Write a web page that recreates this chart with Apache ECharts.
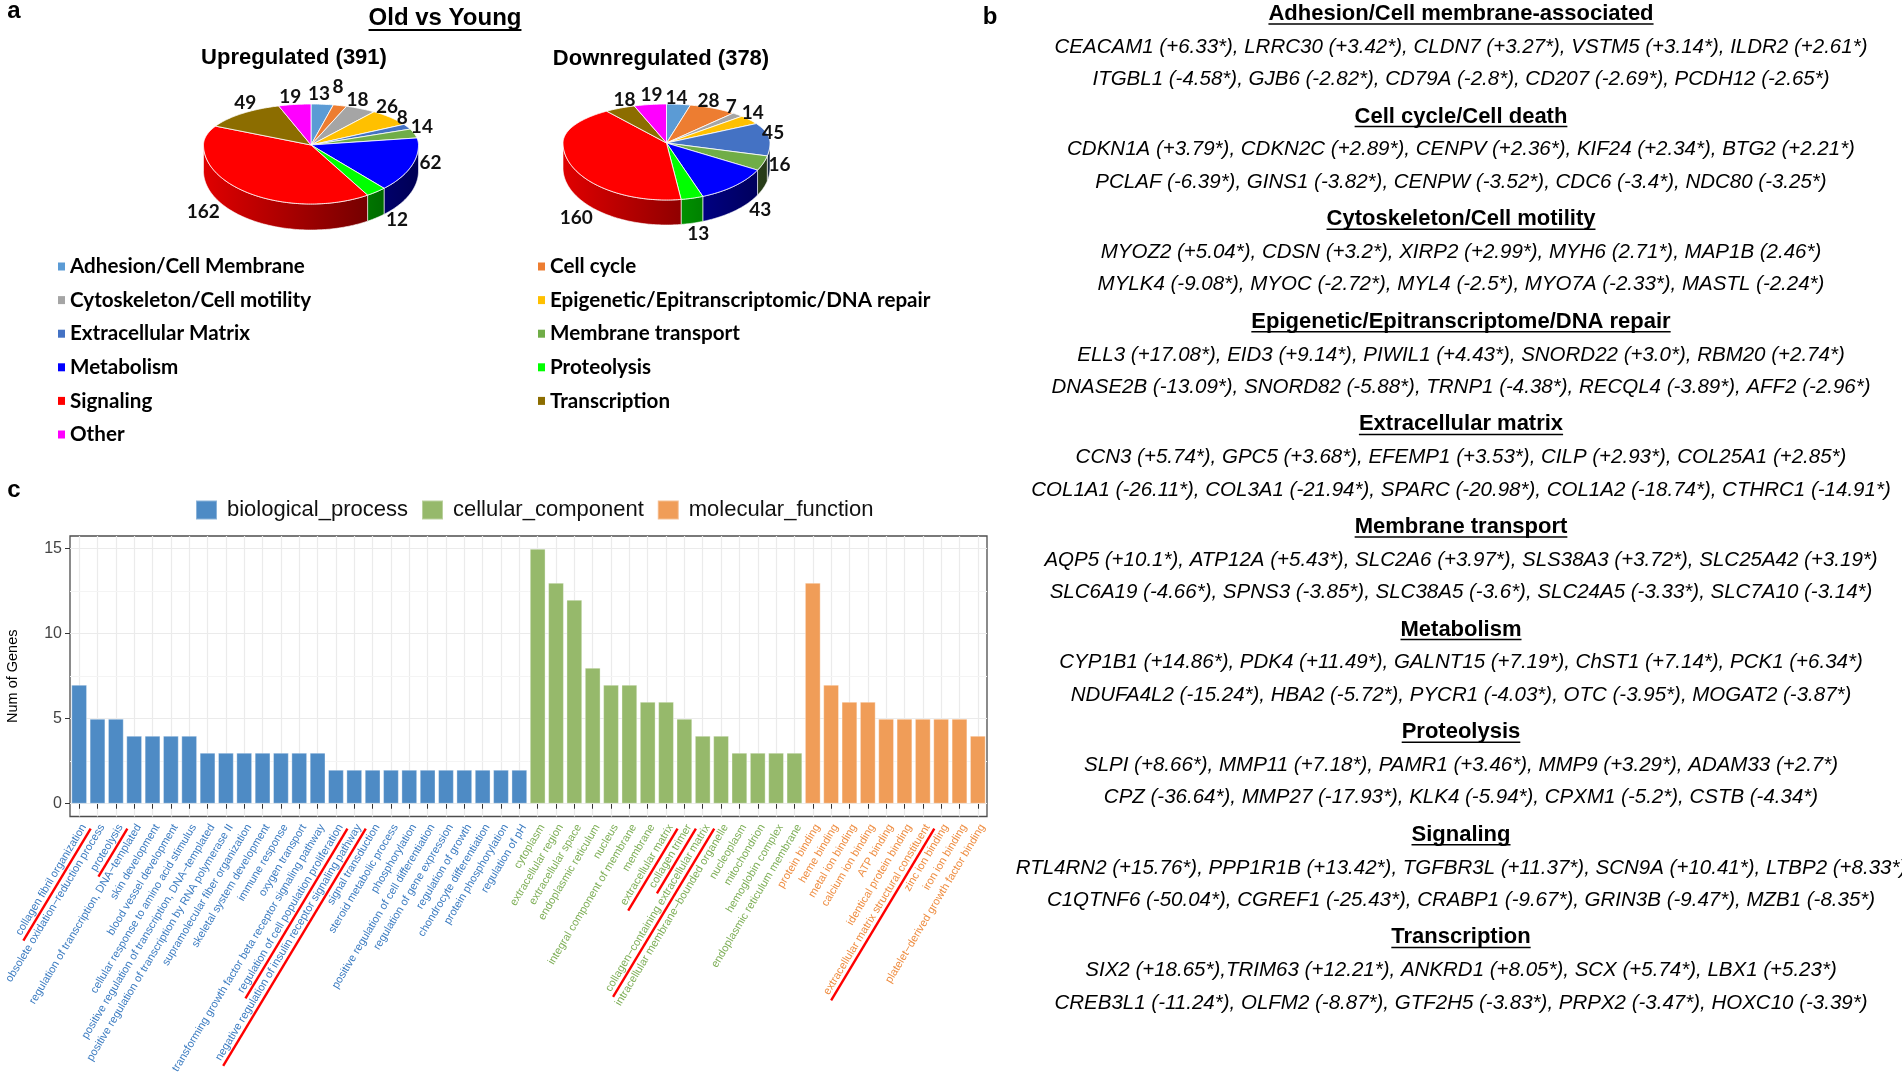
<!DOCTYPE html>
<html><head><meta charset="utf-8">
<script src="https://cdn.jsdelivr.net/npm/echarts@6/dist/echarts.min.js"></script>
<style>html,body{margin:0;padding:0;background:#fff}#c{width:1902px;height:1076px}</style>
</head><body><div id="c"></div>
<script>
// ================= DATA =================
const pieCategories = ['Adhesion/Cell Membrane','Cell cycle','Cytoskeleton/Cell motility','Epigenetic/Epitranscriptomic/DNA repair','Extracellular Matrix','Membrane transport','Metabolism','Proteolysis','Signaling','Transcription','Other'];
const upCounts   = [13, 8, 18, 26, 8, 14, 62, 12, 162, 49, 19];
const downCounts = [14, 28, 7, 14, 45, 16, 43, 13, 160, 18, 19];
const pieTitles = ['Upregulated (391)', 'Downregulated (378)'];
const mainTitle = 'Old vs Young';

const bpTerms = ['collagen fibril organization','obsolete oxidation\u2212reduction process','proteolysis','regulation of transcription, DNA\u2212templated','skin development','blood vessel development','cellular response to amino acid stimulus','positive regulation of transcription, DNA\u2212templated','positive regulation of transcription by RNA polymerase II','supramolecular fiber organization','skeletal system development','immune response','oxygen transport','transforming growth factor beta receptor signaling pathway','regulation of cell population proliferation','negative regulation of insulin receptor signaling pathway','signal transduction','steroid metabolic process','phosphorylation','positive regulation of cell differentiation','regulation of gene expression','regulation of growth','chondrocyte differentiation','protein phosphorylation','regulation of pH'];
const bpCounts = [7,5,5,4,4,4,4,3,3,3,3,3,3,3,2,2,2,2,2,2,2,2,2,2,2];
const ccTerms = ['cytoplasm','extracellular region','extracellular space','endoplasmic reticulum','nucleus','integral component of membrane','membrane','extracellular matrix','collagen trimer','collagen\u2212containing extracellular matrix','intracellular membrane\u2212bounded organelle','nucleoplasm','mitochondrion','hemoglobin complex','endoplasmic reticulum membrane'];
const ccCounts = [15,13,12,8,7,7,6,6,5,4,4,3,3,3,3];
const mfTerms = ['protein binding','heme binding','metal ion binding','calcium ion binding','ATP binding','identical protein binding','extracellular matrix structural constituent','zinc ion binding','iron ion binding','platelet\u2212derived growth factor binding'];
const mfCounts = [13,7,6,6,5,5,5,5,5,4];
const goSeriesNames = ['biological_process','cellular_component','molecular_function'];
const underlinedTerms = ['collagen fibril organization','proteolysis','regulation of cell population proliferation','negative regulation of insulin receptor signaling pathway','extracellular matrix','collagen trimer','collagen\u2212containing extracellular matrix','extracellular matrix structural constituent'];
const yTicks = [0, 5, 10, 15];
const yMinorTicks = [2.5, 7.5, 12.5];

const geneSectionTitles = ['Adhesion/Cell membrane-associated','Cell cycle/Cell death','Cytoskeleton/Cell motility','Epigenetic/Epitranscriptome/DNA repair','Extracellular matrix','Membrane transport','Metabolism','Proteolysis','Signaling','Transcription'];
const geneUpLines = [
 'CEACAM1 (+6.33*), LRRC30 (+3.42*), CLDN7 (+3.27*), VSTM5 (+3.14*), ILDR2 (+2.61*)',
 'CDKN1A (+3.79*), CDKN2C (+2.89*), CENPV (+2.36*), KIF24 (+2.34*), BTG2 (+2.21*)',
 'MYOZ2 (+5.04*), CDSN (+3.2*), XIRP2 (+2.99*), MYH6 (2.71*), MAP1B (2.46*)',
 'ELL3 (+17.08*), EID3 (+9.14*), PIWIL1 (+4.43*), SNORD22 (+3.0*), RBM20 (+2.74*)',
 'CCN3 (+5.74*), GPC5 (+3.68*), EFEMP1 (+3.53*), CILP (+2.93*), COL25A1 (+2.85*)',
 'AQP5 (+10.1*), ATP12A (+5.43*), SLC2A6 (+3.97*), SLS38A3 (+3.72*), SLC25A42 (+3.19*)',
 'CYP1B1 (+14.86*), PDK4 (+11.49*), GALNT15 (+7.19*), ChST1 (+7.14*), PCK1 (+6.34*)',
 'SLPI (+8.66*), MMP11 (+7.18*), PAMR1 (+3.46*), MMP9 (+3.29*), ADAM33 (+2.7*)',
 'RTL4RN2 (+15.76*), PPP1R1B (+13.42*), TGFBR3L (+11.37*), SCN9A (+10.41*), LTBP2 (+8.33*)',
 'SIX2 (+18.65*),TRIM63 (+12.21*), ANKRD1 (+8.05*), SCX (+5.74*), LBX1 (+5.23*)'];
const geneDownLines = [
 'ITGBL1 (-4.58*), GJB6 (-2.82*), CD79A (-2.8*), CD207 (-2.69*), PCDH12 (-2.65*)',
 'PCLAF (-6.39*), GINS1 (-3.82*), CENPW (-3.52*), CDC6 (-3.4*), NDC80 (-3.25*)',
 'MYLK4 (-9.08*), MYOC (-2.72*), MYL4 (-2.5*), MYO7A (-2.33*), MASTL (-2.24*)',
 'DNASE2B (-13.09*), SNORD82 (-5.88*), TRNP1 (-4.38*), RECQL4 (-3.89*), AFF2 (-2.96*)',
 'COL1A1 (-26.11*), COL3A1 (-21.94*), SPARC (-20.98*), COL1A2 (-18.74*), CTHRC1 (-14.91*)',
 'SLC6A19 (-4.66*), SPNS3 (-3.85*), SLC38A5 (-3.6*), SLC24A5 (-3.33*), SLC7A10 (-3.14*)',
 'NDUFA4L2 (-15.24*), HBA2 (-5.72*), PYCR1 (-4.03*), OTC (-3.95*), MOGAT2 (-3.87*)',
 'CPZ (-36.64*), MMP27 (-17.93*), KLK4 (-5.94*), CPXM1 (-5.2*), CSTB (-4.34*)',
 'C1QTNF6 (-50.04*), CGREF1 (-25.43*), CRABP1 (-9.67*), GRIN3B (-9.47*), MZB1 (-8.35*)',
 'CREB3L1 (-11.24*), OLFM2 (-8.87*), GTF2H5 (-3.83*), PRPX2 (-3.47*), HOXC10 (-3.39*)'];

// ================= STYLE / LAYOUT =================
const pieColors = ['#5B9BD5','#ED7D31','#A5A5A5','#FFC000','#4472C4','#70AD47','#0000FF','#00FF00','#FF0000','#8C6D00','#FF00FF'];
const PIE_GEOM = [
  {cx:311, cy:145, rx:107.5, ryB:41, ryF:59, depth:26},
  {cx:666.5, cy:143, rx:103.5, ryB:39, ryF:57, depth:25}
];
// small label nudges (layout only)
const LABEL_NUDGE = [
  [[-5,0],[-5,-9],[-11,0],[-16,-4],[-15,-4],[-8,-4],[2,-7],[11,4],[-20,2],[14,-3],[-2,2]],
  [[-4,4],[-12,2],[-14,-1],[-10,-1],[-12,-3],[1,-5],[15,2],[2,2],[26,47],[12,1],[4,0]]
];
const goColors = ['#4E8BC5','#96B96B','#F09D58'];
const goTextColors = ['#3B7BC0','#7DAE56','#EE8C40'];
const GRID = {left:70, top:536, width:917, height:288};
const LABEL_ROT = 59, LABEL_MARGIN = 6, XLABEL_FONT = 11;
const FONT = '"Liberation Sans", Arial, sans-serif';

const categories = bpTerms.concat(ccTerms, mfTerms);
const catGroup = categories.map((_, i) => i < bpTerms.length ? 0 : (i < bpTerms.length + ccTerms.length ? 1 : 2));
const mctx = document.createElement('canvas').getContext('2d');
function textW(str, font){ mctx.font = font; return mctx.measureText(str).width; }

function shade(hex, f){
  const n = parseInt(hex.slice(1),16);
  const r = Math.round(((n>>16)&255)*f), g = Math.round(((n>>8)&255)*f), b = Math.round((n&255)*f);
  return 'rgb(' + r + ',' + g + ',' + b + ')';
}
function pt(g, deg, dy){
  const a = deg*Math.PI/180, s = Math.sin(a), c = Math.cos(a);
  return [g.cx + g.rx*s, g.cy - (c > 0 ? g.ryB : g.ryF)*c + (dy||0)];
}

// ================= PIE (custom 3D) SERIES =================
const pieSeries = pieCategories.map((name, k) => ({
  type: 'custom', name: name, coordinateSystem: 'none', silent: true,
  itemStyle: {color: pieColors[k]},
  data: [{value: [0, upCounts[k]]}, {value: [1, downCounts[k]]}],
  renderItem: function(params, api){
    const p = params.dataIndex;
    const counts = p === 0 ? upCounts : downCounts;
    const total = counts.reduce((a,b)=>a+b, 0);
    let before = 0; for (let i = 0; i < k; i++) before += counts[i];
    const val = api.value(1);
    const a0 = before/total*360, a1 = (before+val)/total*360;
    const g = PIE_GEOM[p];
    const children = [];
    const s0 = Math.max(a0, 90), s1 = Math.min(a1, 270);
    if (s1 > s0) {
      const up = [], low = [];
      for (let a = s0; a < s1; a += 1) { up.push(pt(g,a)); low.push(pt(g,a,g.depth)); }
      up.push(pt(g,s1)); low.push(pt(g,s1,g.depth));
      children.push({type:'polygon', shape:{points: up.concat(low.reverse())},
        style:{fill: new echarts.graphic.LinearGradient(g.cx-g.rx, 0, g.cx+g.rx, 0,
          [{offset:0, color: shade(pieColors[k], 0.88)}, {offset:1, color: shade(pieColors[k], 0.33)}], true),
          stroke:'rgba(255,255,255,0.75)', lineWidth:0.8}});
    }
    const top = [[g.cx, g.cy]];
    for (let a = a0; a < a1; a += 1) top.push(pt(g,a));
    top.push(pt(g,a1));
    children.push({type:'polygon', shape:{points: top}, style:{fill: pieColors[k], stroke:'rgba(255,255,255,0.9)', lineWidth:0.9}});
    const mid = (a0+a1)/2, rad = mid*Math.PI/180, sn = Math.sin(rad), cs = Math.cos(rad);
    const txt = String(val);
    const E = pt(g, mid, cs < 0 ? g.depth*cs*cs : 0);
    const w = 10.4*txt.length;
    const nd = LABEL_NUDGE[p][k];
    const lx = E[0] + sn*(w/2+6) + nd[0], ly = E[1] - cs*10 + nd[1];
    children.push({type:'text', x: lx, y: ly, style:{text: txt, x:0, y:0, fill:'#111',
      font:'bold 19px Lato, "Liberation Sans", sans-serif', align:'center', verticalAlign:'middle',
      textAlign:'center', textVerticalAlign:'middle'}});
    return {type:'group', children: children};
  }
}));

// ================= GO BAR SERIES =================
const nB = bpTerms.length, nC = ccTerms.length, nM = mfTerms.length;
const barData = [
  bpCounts.concat(Array(nC+nM).fill(null)),
  Array(nB).fill(null).concat(ccCounts, Array(nM).fill(null)),
  Array(nB+nC).fill(null).concat(mfCounts)
];
const barSeries = goSeriesNames.map((nm, i) => ({
  type:'bar', name: nm, stack:'go', barWidth:'86%', data: barData[i], z: 3,
  itemStyle:{color: goColors[i], borderColor:'rgba(255,255,255,0.35)', borderWidth:1},
  emphasis:{disabled:true},
  markLine: i === 0 ? {
    silent:true, symbol:'none', z:1, animation:false,
    label:{show:false},
    data: yTicks.map(v => ({yAxis:v, lineStyle:{color:'#EBEBEB', width:1.2, type:'solid'}}))
      .concat(yMinorTicks.map(v => ({yAxis:v, lineStyle:{color:'#F4F4F4', width:1, type:'solid'}})))
  } : undefined
}));

const underlineSeries = {
  type:'custom', name:'underline', silent:true, clip:false, z:10,
  xAxisIndex:0, yAxisIndex:0,
  data: underlinedTerms.map(t => [categories.indexOf(t), 0]),
  encode:{x:0, y:1},
  renderItem: function(params, api){
    const idx = api.value(0);
    const base = api.coord([idx, -0.75]);
    const w = textW(categories[idx], XLABEL_FONT + 'px ' + FONT);
    const th = LABEL_ROT*Math.PI/180;
    const rd = [Math.cos(th), -Math.sin(th)], pp = [Math.sin(th), Math.cos(th)];
    const ax = base[0], ay = base[1] + LABEL_MARGIN;
    const sx = ax + pp[0]*13 + rd[0]*0.7, sy = ay + pp[1]*13 + rd[1]*0.7;
    const L = w + 3.5;
    return {type:'line', shape:{x1:sx, y1:sy, x2:sx - rd[0]*L, y2:sy - rd[1]*L},
      style:{stroke:'#FF0000', lineWidth:2.4}};
  }
};

// ================= GRAPHIC TEXT =================
const graphics = [];
function addText(str, x, y, font, color){
  graphics.push({type:'text', x:x, y:y, silent:true, style:{text:str, x:0, y:0, font:font, fill:color||'#000',
    align:'center', verticalAlign:'middle', textAlign:'center', textVerticalAlign:'middle'}});
}
function addLine(x1, y1, x2, y2, w){
  graphics.push({type:'line', silent:true, shape:{x1:x1,y1:y1,x2:x2,y2:y2}, style:{stroke:'#000', lineWidth:w}});
}
addText('a', 14, 11, 'bold 24px ' + FONT);
addText('b', 990, 17, 'bold 24px ' + FONT);
addText('c', 14, 490, 'bold 24px ' + FONT);
const mtFont = 'bold 24px ' + FONT;
addText(mainTitle, 445, 18, mtFont);
const mtw = textW(mainTitle, mtFont);
addLine(445 - mtw/2, 30, 445 + mtw/2, 30, 2);
addText(pieTitles[0], 294, 58, 'bold 22px ' + FONT);
addText(pieTitles[1], 661, 59, 'bold 22px ' + FONT);
const BX = 1461;
const hFont = 'bold 22px ' + FONT, gFont = 'italic 20.5px ' + FONT;
geneSectionTitles.forEach((t, i) => {
  const y = 14 + 102.6*i;
  addText(t, BX, y, hFont);
  const hw = textW(t, hFont);
  addLine(BX - hw/2, y + 10, BX + hw/2, y + 10, 1.5);
  addText(geneUpLines[i], BX, y + 33, gFont);
  addText(geneDownLines[i], BX, y + 65.5, gFont);
});

// ================= OPTION =================
const legendText = {fontFamily:'Lato, "Liberation Sans", sans-serif', fontWeight:'bold', fontSize:20.6, color:'#000', lineHeight:20};
const option = {
  animation:false,
  backgroundColor:'#fff',
  legend: [
    {data: pieCategories.filter((_, i) => i % 2 === 0), left:53, top:251, orient:'vertical', icon:'rect',
     itemWidth:7, itemHeight:8, itemGap:12.6, selectedMode:false, textStyle: legendText},
    {data: pieCategories.filter((_, i) => i % 2 === 1), left:533, top:251, orient:'vertical', icon:'rect',
     itemWidth:7, itemHeight:8, itemGap:12.6, selectedMode:false, textStyle: legendText},
    {data: goSeriesNames, left:190, top:494, orient:'horizontal', icon:'rect',
     itemWidth:21, itemHeight:19, itemGap:13, selectedMode:false,
     textStyle:{fontFamily:FONT, fontSize:22, color:'#111', padding:[0,0,0,5]}}
  ],
  grid: {left:GRID.left, top:GRID.top, width:GRID.width, height:GRID.height, show:true,
         borderColor:'#4d4d4d', borderWidth:1.3, containLabel:false},
  xAxis: {type:'category', data: categories, boundaryGap:true,
    axisLine:{show:false},
    axisTick:{show:true, alignWithLabel:true, interval:0, length:5, lineStyle:{color:'#333', width:1}},
    splitLine:{show:true, alignWithLabel:true, interval:0, lineStyle:{color:'#EBEBEB', width:1.2}},
    axisLabel:{interval:0, rotate:LABEL_ROT, margin:LABEL_MARGIN, fontSize:XLABEL_FONT, fontFamily:FONT,
      verticalAlign:'top',
      color: function(v, i){ return goTextColors[catGroup[i !== undefined ? i : categories.indexOf(v)]]; }}
  },
  yAxis: {type:'value', min:-0.75, max:15.75,
    name:'Num of Genes', nameLocation:'middle', nameGap:50, nameRotate:90,
    nameTextStyle:{fontFamily:FONT, fontSize:14.5, color:'#000'},
    axisLine:{show:false},
    axisTick:{show:true, length:5, customValues: yTicks, lineStyle:{color:'#333'}},
    axisLabel:{customValues: yTicks, fontSize:16, fontFamily:FONT, color:'#444', margin:8},
    splitLine:{show:false}
  },
  series: pieSeries.concat(barSeries, [underlineSeries]),
  graphic: {elements: graphics}
};
const chart = echarts.init(document.getElementById('c'), null, {renderer:'canvas'});
chart.setOption(option);
</script>
</body></html>
